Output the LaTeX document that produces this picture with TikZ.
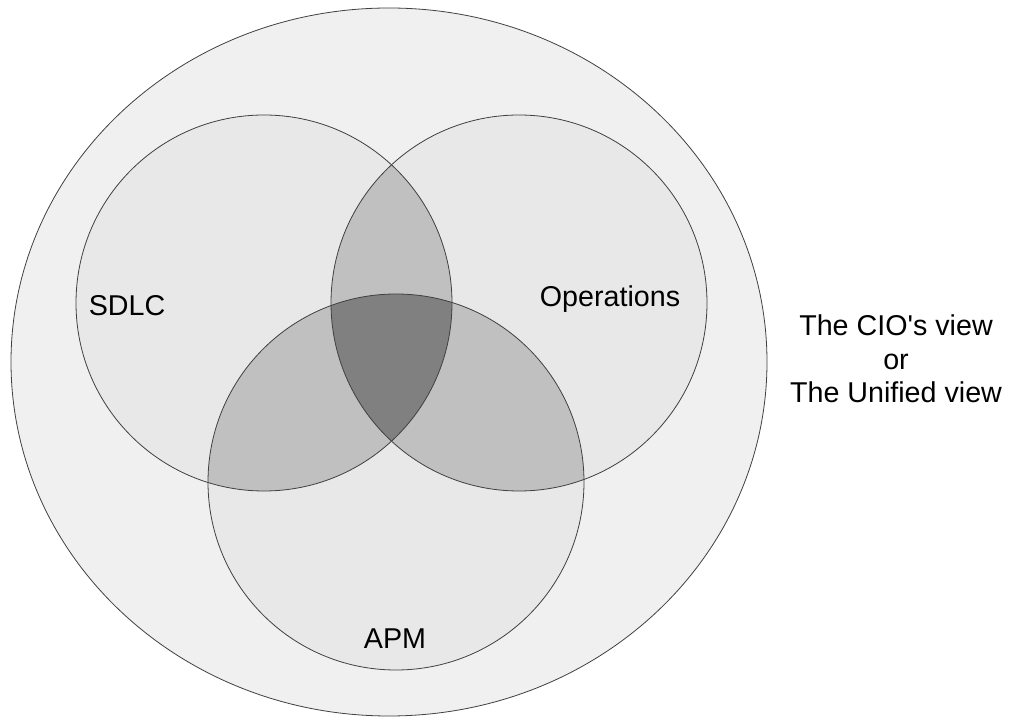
\documentclass[tikz,border=0pt]{standalone}
\usepackage{fontspec}
\setmainfont{Liberation Sans}
\usepackage{tikz}

\definecolor{outerfill}{HTML}{F1F0F1}
\definecolor{onefill}{HTML}{E9E8E9}
\definecolor{twofill}{HTML}{C0C0C0}
\definecolor{threefill}{HTML}{808080}

\begin{document}
\begin{tikzpicture}[x=0.75pt,y=0.75pt,
    every node/.style={font=\fontsize{21.5}{25}\selectfont},
    ring/.style={draw=black!75,line width=0.6pt}]
  \useasboundingbox (0,0) rectangle (1010,717);
  % background and the three sets
  \fill[outerfill] (389,355) ellipse (378 and 354);
  \fill[onefill] (264,414) circle (188);
  \fill[onefill] (519,414) circle (188);
  \fill[onefill] (396,235) circle (188);
  % pairwise overlaps
  \begin{scope}
    \clip (264,414) circle (188);
    \fill[twofill] (519,414) circle (188);
    \fill[twofill] (396,235) circle (188);
  \end{scope}
  \begin{scope}
    \clip (519,414) circle (188);
    \fill[twofill] (396,235) circle (188);
  \end{scope}
  % common part of all three
  \begin{scope}
    \clip (264,414) circle (188);
    \clip (519,414) circle (188);
    \fill[threefill] (396,235) circle (188);
  \end{scope}
  \draw[ring] (389,355) ellipse (378 and 354);
  \draw[ring] (264,414) circle (188);
  \draw[ring] (519,414) circle (188);
  \draw[ring] (396,235) circle (188);
  \node (sdlc) at (127,411) {SDLC};
  \node (ops) at (610,418) {Operations};
  \node (apm) at (395,78) {APM};
  \node[align=center] (cio) at (896,358) {The CIO\textquotesingle s view\\or\\The Unified view};
\end{tikzpicture}
\end{document}
